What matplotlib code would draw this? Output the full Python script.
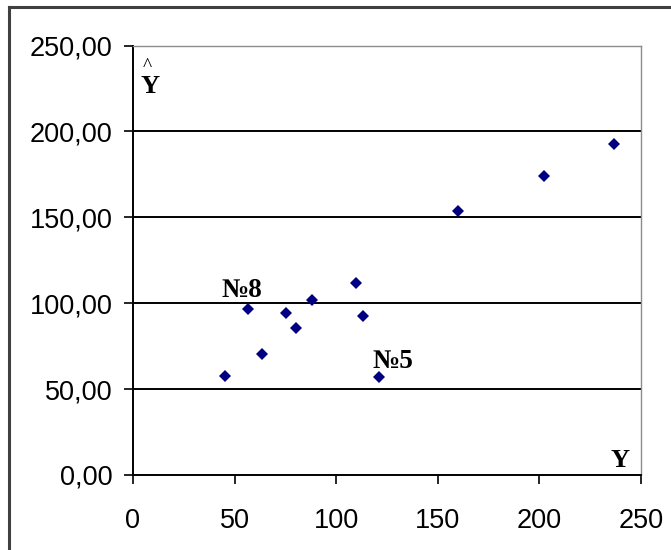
import matplotlib.pyplot as plt
from matplotlib.lines import Line2D

# observed Y vs predicted Y-hat
y_obs = [45.4, 56.4, 63.3, 75.1, 80.4, 88.2, 109.7, 113.2, 121.2, 159.9, 202.4, 236.9]
y_hat = [57.8, 96.6, 70.4, 94.3, 85.4, 102.0, 111.9, 92.5, 56.9, 153.8, 174.0, 192.5]

x_ticks = [0, 50, 100, 150, 200, 250]
y_ticks = [0, 50, 100, 150, 200, 250]
y_tick_labels = ['0,00', '50,00', '100,00', '150,00', '200,00', '250,00']

# labelled observations: (label, index in the arrays)
marks = [('№8', 1), ('№5', 8)]

W, H = 671, 550
fig = plt.figure(figsize=(W / 100, H / 100), dpi=100)
fig.patch.set_facecolor('white')

# outer chart frame (only left and top edges visible)
fig.add_artist(Line2D([9 / W, 9 / W], [0, 1 - 7 / H], color='#404040', lw=2.2,
                      transform=fig.transFigure))
fig.add_artist(Line2D([9 / W, 1], [1 - 7 / H, 1 - 7 / H], color='#404040', lw=2.2,
                      transform=fig.transFigure))

ax = fig.add_axes([133 / W, 1 - 475 / H, (641 - 133) / W, (475 - 45.5) / H])
ax.set_xlim(0, 250)
ax.set_ylim(0, 250)

for v in y_ticks[1:-1]:
    ax.axhline(v, color='black', lw=1.4, zorder=1)

ax.plot(y_obs, y_hat, linestyle='none', marker='D', ms=6, color='#000080',
        markeredgewidth=0, zorder=3)

for spine in ['top', 'right']:
    ax.spines[spine].set_color('#8c8c8c')
    ax.spines[spine].set_linewidth(1.0)
for spine in ['left', 'bottom']:
    ax.spines[spine].set_color('black')
    ax.spines[spine].set_linewidth(1.4)

ax.set_xticks(x_ticks)
ax.set_xticklabels([str(t) for t in x_ticks])
ax.set_yticks(y_ticks)
ax.set_yticklabels(y_tick_labels)
ax.tick_params(direction='out', length=6.5, width=1.2, color='black',
               labelsize=19.5, pad=8)
for lab in ax.get_xticklabels() + ax.get_yticklabels():
    lab.set_family(['Liberation Sans', 'DejaVu Sans'])
ax.tick_params(axis='x', pad=17)

serif = ['Liberation Serif', 'DejaVu Serif']
offsets = [(-6, 12), (14, 9)]
for (text, i), off in zip(marks, offsets):
    ax.annotate(text, (y_obs[i], y_hat[i]), xytext=off,
                textcoords='offset pixels', ha='center', va='baseline',
                fontsize=19.5, fontweight='bold', family=serif)

# axis captions: Y-hat at top left, Y at bottom right
ax.text(0.029, 0.972, '^', transform=ax.transAxes, fontsize=14, family=serif,
        ha='center', va='top')
ax.text(0.033, 0.889, 'Y', transform=ax.transAxes, fontsize=19, fontweight='bold',
        family=serif, ha='center', va='baseline')
ax.text(0.958, 0.019, 'Y', transform=ax.transAxes, fontsize=19, fontweight='bold',
        family=serif, ha='center', va='baseline')

fig.savefig('out.png', dpi=100)
